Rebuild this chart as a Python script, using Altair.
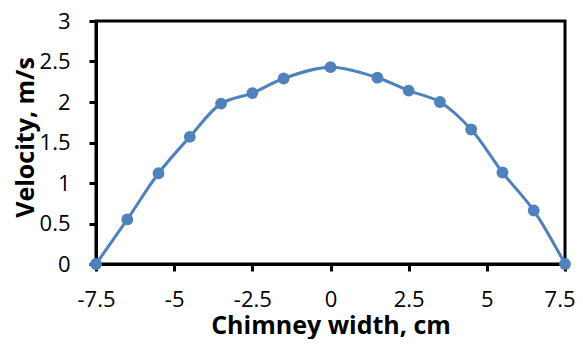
import altair as alt
import pandas as pd

width_cm = [-7.5, -6.5, -5.5, -4.5, -3.5, -2.5, -1.5, 0, 1.5, 2.5, 3.5, 4.5, 5.5, 6.5, 7.5]
velocity = [0, 0.55, 1.12, 1.57, 1.98, 2.11, 2.29, 2.43, 2.30, 2.14, 2.00, 1.66, 1.13, 0.66, 0]
x_ticks = [-7.5, -5, -2.5, 0, 2.5, 5, 7.5]
y_ticks = [0, 0.5, 1, 1.5, 2, 2.5, 3]

df = pd.DataFrame({"x": width_cm, "v": velocity})

color = "#4F81BD"
font = "Open Sans"

xenc = alt.X("x:Q", scale=alt.Scale(domain=[-7.5, 7.5], nice=False, zero=False),
             axis=alt.Axis(values=x_ticks, title="Chimney width, cm",
                           grid=False, labelExpr="'' + datum.value", labelFlush=False,
                           labelAlign=alt.condition("datum.value >= 7.5", alt.value("right"), alt.value("center")),
                           labelOffset=alt.condition("datum.value >= 7.5", alt.value(10), alt.value(0))))
yenc = alt.Y("v:Q", scale=alt.Scale(domain=[0, 3], nice=False),
             axis=alt.Axis(values=y_ticks, title="Velocity, m/s", titleY=116,
                           grid=False, labelExpr="'' + datum.value", labelFlush=False))

base = alt.Chart(df).encode(x=xenc, y=yenc)
line = base.mark_line(color=color, strokeWidth=3, interpolate="catmull-rom")
pts = base.mark_point(color=color, filled=True, opacity=1, size=140)

chart = (line + pts).properties(
    width=469, height=243,
    autosize=alt.AutoSizeParams(type="none"),
    padding={"left": 88, "top": 13, "right": 10, "bottom": 75},
).configure_view(stroke="black", strokeWidth=3).configure_axis(
    domainColor="black", domainWidth=3, tickColor="black", tickWidth=3, tickSize=7,
    labelFont=font, labelFontSize=22, labelColor="black",
    titleFont=font, titleFontSize=25, titleFontWeight="bold", titleColor="black",
).configure_axisX(labelPadding=18, titlePadding=3).configure_axisY(labelPadding=19, titlePadding=1)

chart.save("out.html", embed_options={"renderer": "svg", "actions": False})
